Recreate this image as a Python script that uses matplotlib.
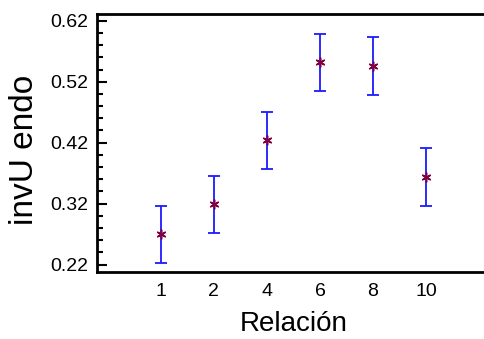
import matplotlib
matplotlib.use("Agg")
import matplotlib.pyplot as plt
from matplotlib.ticker import MultipleLocator

categories = ["1", "2", "4", "6", "8", "10"]
means = [0.270, 0.319, 0.424, 0.552, 0.546, 0.364]
half_err = [0.047, 0.047, 0.047, 0.047, 0.047, 0.047]
yticks = [0.22, 0.32, 0.42, 0.52, 0.62]

plt.rcParams['font.family'] = ['Liberation Sans', 'DejaVu Sans']

fig = plt.figure(figsize=(4.85, 3.39), dpi=100)
ax = fig.add_axes([97/485, 1 - 272/339, 1 - 97/485 + 0.01, (272 - 14)/339])

x = list(range(1, len(categories) + 1))
ax.errorbar(x, means, yerr=half_err, fmt='none', ecolor='#1a1aff', elinewidth=1.3,
            capsize=4.5, capthick=1.3)
ax.plot(x, means, linestyle='none', marker=(6, 2, 0), markersize=7,
        markeredgecolor='#800040', markeredgewidth=1.1)

ax.set_xlim(-0.2, 7.2)
ax.set_ylim(0.208, 0.631)
ax.set_xticks(x)
ax.set_xticklabels(categories)
ax.set_yticks(yticks)
ax.set_yticklabels([f"{v:.2f}" for v in yticks])
ax.yaxis.set_minor_locator(MultipleLocator(0.02))
ax.tick_params(axis='y', which='major', direction='in', length=7, width=1.5, labelsize=14, pad=6.5)
ax.tick_params(axis='y', which='minor', direction='in', length=4, width=1.5)
ax.tick_params(axis='x', which='both', length=0, labelsize=14, pad=8)

for side in ['left', 'bottom', 'top']:
    ax.spines[side].set_linewidth(2)
ax.spines['right'].set_visible(False)

ax.set_xlabel("Relación", fontsize=20, labelpad=8)
ax.set_ylabel("invU endo", fontsize=24)
ax.yaxis.set_label_coords(-0.145, 0.473)

fig.savefig("out.png", dpi=100)
